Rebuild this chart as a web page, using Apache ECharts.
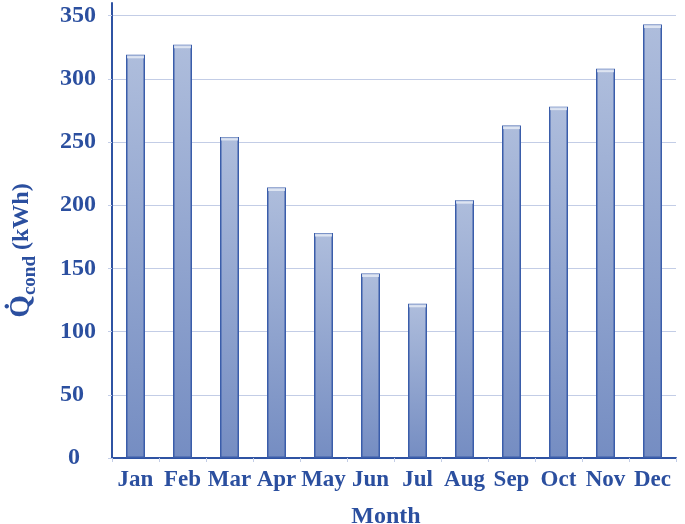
<!DOCTYPE html>
<html>
<head>
<meta charset="utf-8">
<script src="https://cdn.jsdelivr.net/npm/echarts@6/dist/echarts.min.js"></script>
<style>
  html, body { margin: 0; padding: 0; background: #fff; }
  #main { width: 685px; height: 524px; }
</style>
</head>
<body>
<div id="main"></div>
<script>
// monthly condenser heat (kWh)
var months = ['Jan', 'Feb', 'Mar', 'Apr', 'May', 'Jun', 'Jul', 'Aug', 'Sep', 'Oct', 'Nov', 'Dec']
var qCond = [319, 327, 254, 214, 178, 146, 122, 204, 263, 278, 308, 343]
var yTicks = [0, 50, 100, 150, 200, 250, 300, 350]

var textColor = '#2b4f9f'
var fontFamily = '"Liberation Serif", "Times New Roman", serif'

var chart = echarts.init(document.getElementById('main'))
chart.setOption({
  animation: false,
  grid: { left: 112, right: 9, top: 3, bottom: 66, outerBoundsMode: 'none' },
  xAxis: {
    type: 'category',
    data: months,
    name: 'Month',
    nameLocation: 'middle',
    nameGap: 47,
    nameTextStyle: {
      color: textColor, fontFamily: fontFamily, fontWeight: 'bold', fontSize: 24,
      padding: [0, 16, 0, 0]
    },
    axisLine: { lineStyle: { color: '#2f53a3', width: 2 } },
    axisTick: { show: true, length: 4, lineStyle: { color: '#c3cde6' } },
    axisLabel: {
      interval: 0,
      color: textColor, fontFamily: fontFamily, fontWeight: 'bold', fontSize: 23, margin: 11
    }
  },
  yAxis: {
    type: 'value',
    min: 0,
    max: 360,
    interval: 50,
    name: '{q|Q\u0307}{s|cond}{u| (kWh)}',
    nameLocation: 'middle',
    nameGap: 72,
    nameTextStyle: {
      color: textColor, fontFamily: fontFamily, fontWeight: 'bold',
      padding: [0, 40, 0, 0],
      rich: {
        q: { fontSize: 29, fontFamily: fontFamily, fontWeight: 'bold', color: textColor, lineHeight: 36, verticalAlign: 'middle' },
        s: { fontSize: 19, fontFamily: fontFamily, fontWeight: 'bold', color: textColor, lineHeight: 36, verticalAlign: 'bottom' },
        u: { fontSize: 24, fontFamily: fontFamily, fontWeight: 'bold', color: textColor, lineHeight: 36, verticalAlign: 'middle' }
      }
    },
    axisLine: { show: true, lineStyle: { color: '#2f53a3', width: 2 } },
    axisTick: { show: true, length: 4, lineStyle: { color: '#c3cde6' } },
    axisLabel: {
      color: textColor, fontFamily: fontFamily, fontWeight: 'bold', fontSize: 24,
      align: 'left', margin: 52,
      showMaxLabel: false,
      formatter: function (v) {
        if (yTicks.indexOf(v) < 0) return ''
        return v === 0 ? '{z|0}' : String(v)
      },
      rich: {
        z: { color: textColor, fontFamily: fontFamily, fontWeight: 'bold', fontSize: 24, padding: [0, 0, 0, 8] }
      }
    },
    splitLine: { show: true, showMaxLine: false, lineStyle: { color: '#c3cde6', width: 1 } }
  },
  series: [
    {
      name: 'Qcond',
      type: 'bar',
      data: qCond,
      barWidth: 19,
      itemStyle: {
        borderColor: '#3a5daa',
        borderWidth: 1.5,
        color: new echarts.graphic.LinearGradient(0, 0, 0, 1, [
          { offset: 0, color: '#aebddc' },
          { offset: 1, color: '#758dc2' }
        ])
      }
    },
    {
      // light cap on top of each bar
      name: 'cap',
      type: 'scatter',
      data: qCond,
      symbol: 'rect',
      symbolSize: [17, 3],
      symbolOffset: [0, 2],
      silent: true,
      itemStyle: { color: '#e9edf6' },
      z: 5
    }
  ]
})
</script>
</body>
</html>
